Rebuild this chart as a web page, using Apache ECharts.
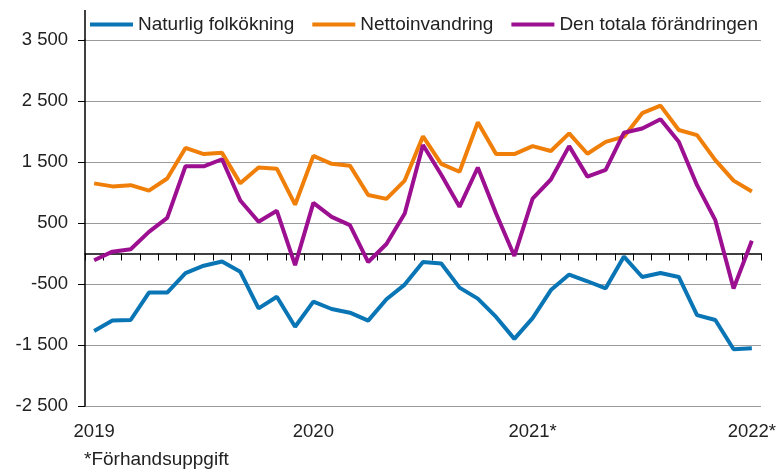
<!DOCTYPE html>
<html>
<head>
<meta charset="utf-8">
<script src="https://cdn.jsdelivr.net/npm/echarts@6/dist/echarts.min.js"></script>
<style>
  html, body { margin: 0; padding: 0; background: #fff; }
  #chart { width: 779px; height: 469px; }
</style>
</head>
<body>
<div id="chart"></div>
<script>
// månader jan 2019 – jan 2022
const months = []
for (let y = 2019; y <= 2022; y++) {
  for (let m = 1; m <= 12; m++) {
    if (y === 2022 && m > 1) break
    months.push(y + '-' + m)
  }
}
const yearLabels = { '2019-1': '2019', '2020-1': '2020', '2021-1': '2021*', '2022-1': '2022*' }

const naturlig = [
  -1270, -1100, -1090, -640, -640, -320, -200, -130, -300, -900,
  -710, -1200, -790, -910, -970, -1100, -750, -510, -140, -165,
  -560, -740, -1040, -1400, -1060, -600, -345, -455, -570, -50,
  -385, -320, -385, -1010, -1090, -1570, -1555
]
const netto = [
  1150, 1100, 1120, 1030, 1230, 1730, 1630, 1650, 1150, 1410,
  1390, 800, 1600, 1470, 1440, 960, 895, 1195, 1920, 1470,
  1340, 2150, 1630, 1630, 1760, 1680, 1970, 1635, 1830, 1915,
  2300, 2425, 2025, 1940, 1530, 1195, 1015
]
const totala = [
  -110, 30, 70, 355, 585, 1430, 1430, 1545, 868, 520,
  700, -190, 830, 600, 465, -140, 155, 656, 1778, 1290,
  765, 1410, 656, -40, 900, 1213, 1760, 1260, 1370, 1980,
  2050, 2200, 1833, 1120, 546, -574, 208
]

const textColor = '#222'
const fontFamily = '"Liberation Sans", Arial, sans-serif'

const chart = echarts.init(document.getElementById('chart'))

chart.setOption({
  animation: false,
  textStyle: { fontFamily: fontFamily, color: textColor },
  title: {
    text: '*Förhandsuppgift',
    left: 79,
    top: 445,
    textStyle: { fontSize: 19, fontWeight: 'normal', color: textColor, fontFamily: fontFamily }
  },
  legend: {
    left: 85,
    top: 10,
    icon: 'rect',
    itemWidth: 43,
    itemHeight: 4,
    itemGap: 18,
    textStyle: { fontSize: 19, color: textColor, fontFamily: fontFamily },
    data: ['Naturlig folkökning', 'Nettoinvandring', 'Den totala förändringen']
  },
  grid: { left: 85, right: 16, top: 40, bottom: 63 },
  xAxis: [
    {
      type: 'category',
      data: months,
      boundaryGap: true,
      axisLine: { onZero: true, lineStyle: { color: '#000', width: 1.5 } },
      axisTick: { show: true, interval: 0, length: 7, lineStyle: { color: '#000', width: 1 } },
      axisLabel: { show: false },
      splitLine: { show: false }
    },
    {
      type: 'category',
      data: months,
      position: 'bottom',
      boundaryGap: true,
      axisLine: { show: false, onZero: false },
      axisTick: { show: false },
      axisLabel: {
        interval: 0,
        margin: 16,
        fontSize: 18.5,
        color: textColor,
        formatter: v => yearLabels[v] || ''
      },
      splitLine: { show: false }
    }
  ],
  yAxis: {
    type: 'value',
    min: -2500,
    max: 3500,
    interval: 1000,
    axisLine: { show: true, lineStyle: { color: '#000', width: 1.5 } },
    axisTick: { show: true, length: 7, lineStyle: { color: '#000' } },
    axisLabel: {
      margin: 17,
      fontSize: 18.5,
      color: textColor,
      formatter: v => {
        const s = String(Math.abs(v))
        const t = s.length > 3 ? s.slice(0, -3) + ' ' + s.slice(-3) : s
        return (v < 0 ? '-' : '') + t
      }
    },
    splitLine: { show: true, lineStyle: { color: '#9a9a9a', width: 1 } }
  },
  graphic: [
    {
      type: 'line',
      shape: { x1: 85, y1: 10, x2: 85, y2: 40 },
      style: { stroke: '#000', lineWidth: 1.5 }
    }
  ],
  series: [
    {
      name: 'Naturlig folkökning',
      type: 'line',
      data: naturlig,
      showSymbol: false,
      lineStyle: { width: 4, color: '#0a75b5' },
      itemStyle: { color: '#0a75b5' },
      z: 3
    },
    {
      name: 'Nettoinvandring',
      type: 'line',
      data: netto,
      showSymbol: false,
      lineStyle: { width: 4, color: '#f07f09' },
      itemStyle: { color: '#f07f09' },
      z: 2
    },
    {
      name: 'Den totala förändringen',
      type: 'line',
      data: totala,
      showSymbol: false,
      lineStyle: { width: 4, color: '#9c0f91' },
      itemStyle: { color: '#9c0f91' },
      z: 4
    }
  ]
})
</script>
</body>
</html>
